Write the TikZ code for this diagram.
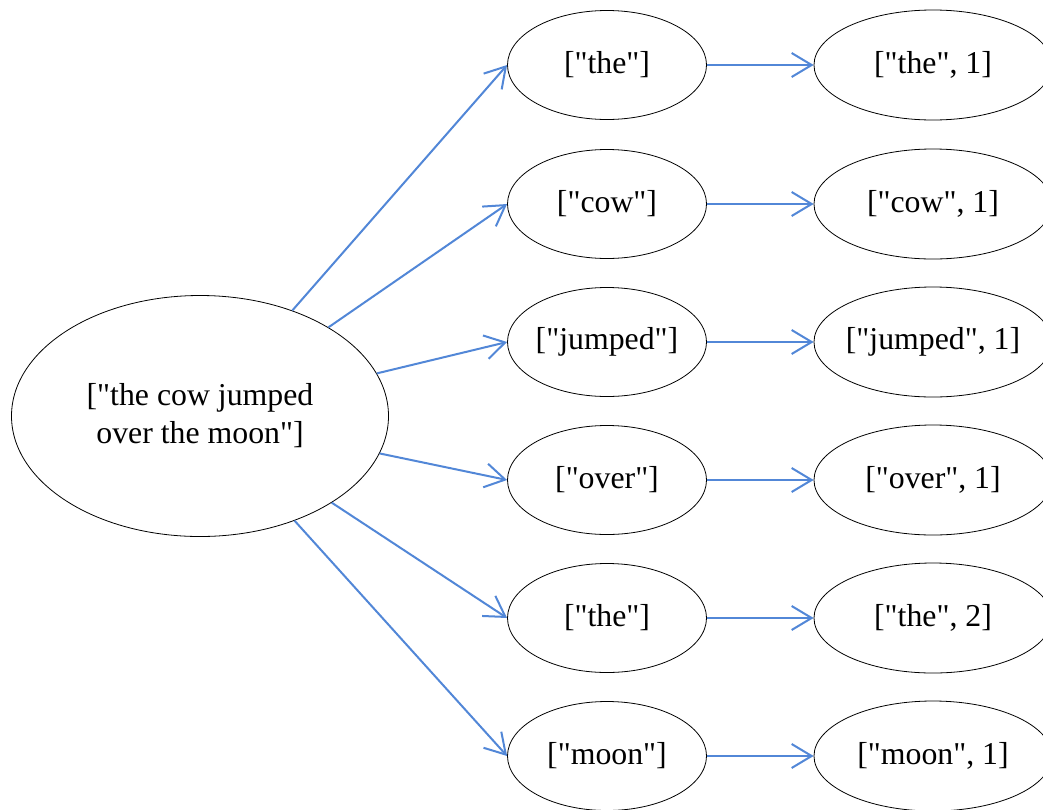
\documentclass[tikz,border=0pt]{standalone}
\usepackage{fontspec}
\setmainfont{Liberation Serif}[Ligatures=TeXOff]
\usepackage{tikz}
\usetikzlibrary{shapes.geometric}
\usetikzlibrary{arrows.meta}
\definecolor{linkblue}{RGB}{82,135,215}

\begin{document}
\begin{tikzpicture}
                [x=1pt,y=-1pt,
                 every node/.style={ellipse,draw,line width=0.8pt,inner xsep=-20pt,inner ysep=0pt,
                   font=\fontsize{31.8}{38}\selectfont},
                 word/.style={minimum width=199pt,minimum height=109pt},
                 pair/.style={minimum width=238pt,minimum height=110pt},
                 link/.style={draw=linkblue,line width=2pt,-{Straight Barb[length=20pt,width=24pt]}}]
                \useasboundingbox (0,0) rectangle (1043,809);

                \node[minimum width=377pt,minimum height=241pt,align=center] (s) at (200,416)
                    {["the cow jumped\\over the moon"]};

                \node[word] (w1) at (607,65) {["the"]};
                \node[word] (w2) at (607,204) {["cow"]};
                \node[word] (w3) at (607,342) {["jumped"]};
                \node[word] (w4) at (607,480) {["over"]};
                \node[word] (w5) at (607,618) {["the"]};
                \node[word] (w6) at (607,756) {["moon"]};

                \node[pair] (p1) at (933,65) {["the", 1]};
                \node[pair] (p2) at (933,204) {["cow", 1]};
                \node[pair] (p3) at (933,342) {["jumped", 1]};
                \node[pair] (p4) at (933,480) {["over", 1]};
                \node[pair] (p5) at (933,618) {["the", 2]};
                \node[pair] (p6) at (933,756) {["moon", 1]};

                % split into words
                \draw[link] (s) -- (w1.west);
                \draw[link] (s) -- (w2.west);
                \draw[link] (s) -- (w3.west);
                \draw[link] (s) -- (w4.west);
                \draw[link] (s) -- (w5.west);
                \draw[link] (s) -- (w6.west);

                % count
                \draw[link] (w1) -- (p1);
                \draw[link] (w2) -- (p2);
                \draw[link] (w3) -- (p3);
                \draw[link] (w4) -- (p4);
                \draw[link] (w5) -- (p5);
                \draw[link] (w6) -- (p6);
            \end{tikzpicture}
\end{document}
